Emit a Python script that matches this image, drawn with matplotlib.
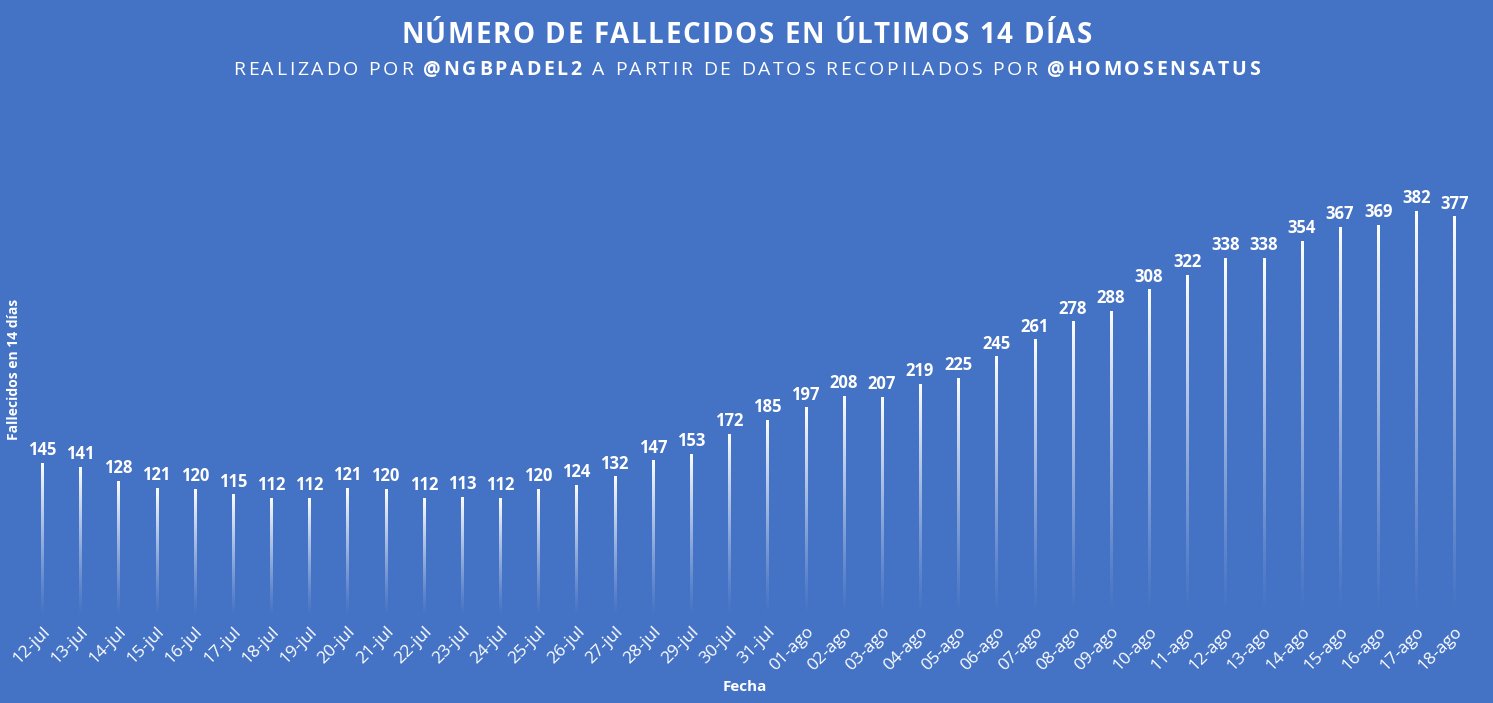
import numpy as np
import matplotlib
matplotlib.use("Agg")
from matplotlib import pyplot as plt

plt.rcParams["font.family"] = ["Open Sans", "DejaVu Sans"]

# Datos
fechas = [
    "12-jul", "13-jul", "14-jul", "15-jul", "16-jul", "17-jul", "18-jul", "19-jul",
    "20-jul", "21-jul", "22-jul", "23-jul", "24-jul", "25-jul", "26-jul", "27-jul",
    "28-jul", "29-jul", "30-jul", "31-jul", "01-ago", "02-ago", "03-ago", "04-ago",
    "05-ago", "06-ago", "07-ago", "08-ago", "09-ago", "10-ago", "11-ago", "12-ago",
    "13-ago", "14-ago", "15-ago", "16-ago", "17-ago", "18-ago",
]
fallecidos = [
    145, 141, 128, 121, 120, 115, 112, 112, 121, 120, 112, 113, 112, 120, 124, 132,
    147, 153, 172, 185, 197, 208, 207, 219, 225, 245, 261, 278, 288, 308, 322, 338,
    338, 354, 367, 369, 382, 377,
]

titulo = [("NÚMERO DE FALLECIDOS EN ÚLTIMOS 14 DÍAS", "bold")]
subtitulo = [
    ("REALIZADO POR ", "normal"),
    ("@NGBPADEL2", "bold"),
    (" A PARTIR DE DATOS RECOPILADOS POR ", "normal"),
    ("@HOMOSENSATUS", "bold"),
]

bg = "#4472C4"

fig = plt.figure(figsize=(14.93, 7.03), dpi=100, facecolor=bg)
ax = fig.add_axes([0.0154, 0.1223, 0.9716, 0.6797])
ax.set_facecolor(bg)

x = np.arange(len(fechas))
bars = ax.bar(x, fallecidos, width=0.055, color="none", edgecolor="none")

# gradiente blanco que se desvanece hacia abajo
grad = np.zeros((256, 1, 4))
grad[..., :3] = 1.0
grad[:, 0, 3] = np.linspace(1.0, 0.0, 256) ** 1.2
for b in bars:
    x0, w, h = b.get_x(), b.get_width(), b.get_height()
    ax.imshow(grad, extent=[x0, x0 + w, 0, h], aspect="auto",
              interpolation="bilinear", origin="upper", zorder=2)

for xi, v in zip(x, fallecidos):
    ax.annotate(str(v), (xi, v), xytext=(0, 3), textcoords="offset points",
                ha="center", va="bottom", color="white", fontsize=12,
                fontweight="bold")

ax.set_xlim(-0.5, len(fechas) - 0.5)
ax.set_ylim(0, 450)
ax.set_xticks(x)
ax.set_xticklabels(fechas, rotation=45, ha="right", va="top",
                   rotation_mode="anchor", color="white", fontsize=12.5)
ax.tick_params(axis="x", length=0, pad=5)
ax.set_yticks([])
for s in ax.spines.values():
    s.set_visible(False)

fig.text(0.499, 0.0228, "Fecha", color="white", fontsize=11, fontweight="bold",
         ha="center", va="center")
fig.text(0.0094, 0.475, "Fallecidos en 14 días", rotation=90, color="white",
         fontsize=10, fontweight="bold", ha="center", va="center")


def spaced_text(y, parts, size, target_px):
    # texto con espaciado entre letras, centrado y con ancho total target_px
    r = fig.canvas.get_renderer()
    chars = []
    for txt, wgt in parts:
        for ch in txt:
            chars.append(fig.text(0, y, ch, color="white", fontsize=size,
                                  fontweight=wgt, ha="left", va="baseline"))
    fig.canvas.draw()
    widths = []
    for t in chars:
        if t.get_text() == " ":
            ref = fig.text(0, 0, "a a", fontsize=size, fontweight=t.get_fontweight())
            ref2 = fig.text(0, 0, "aa", fontsize=size, fontweight=t.get_fontweight())
            wsp = ref.get_window_extent(r).width - ref2.get_window_extent(r).width
            ref.remove()
            ref2.remove()
            widths.append(wsp)
        else:
            widths.append(t.get_window_extent(r).width)
    natural = sum(widths)
    gap = (target_px - natural) / (len(chars) - 1)
    fw = fig.bbox.width
    xpix = fw / 2 - target_px / 2
    for t, w in zip(chars, widths):
        t.set_position((xpix / fw, y))
        xpix += w + gap


spaced_text(0.9388, titulo, 20, 691)
spaced_text(0.8933, subtitulo, 14, 1027)

fig.savefig("out.png", dpi=100, facecolor=bg)
